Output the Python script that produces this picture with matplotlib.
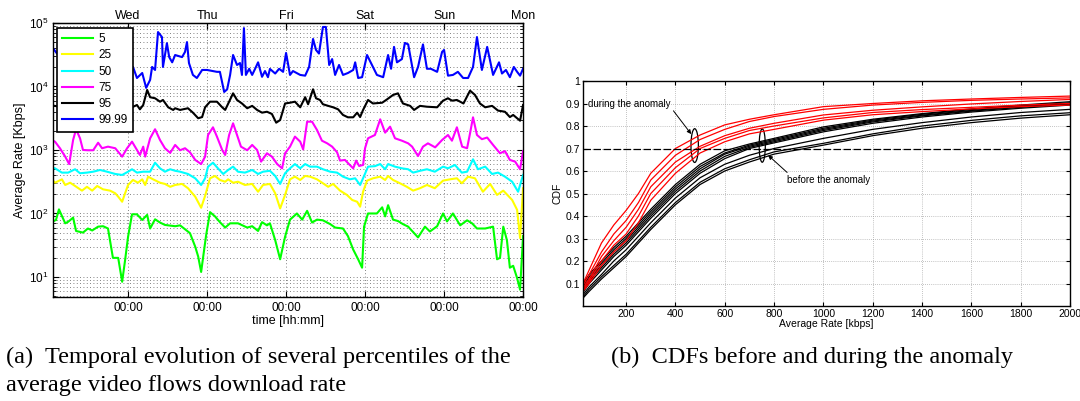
import matplotlib
matplotlib.use("Agg")
import matplotlib.pyplot as plt
from matplotlib.patches import Ellipse

plt.rcParams['font.family'] = ['Liberation Sans', 'DejaVu Sans']
plt.rcParams['mathtext.default'] = 'regular'

# ---- (a) percentiles of the average download rate, hours from Wed 00:00 ----
t_p5 = [-22.8, -21.9, -21.0, -19.1, -18.2, -16.7, -15.8, -13.7, -12.2, -10.9, -9.1, -7.6, -6.1, -4.6, -3.0,
        -1.8, -0.9, 0.0, 1.2, 2.7, 4.3, 5.8, 6.7, 8.2, 9.7, 11.2, 14.3, 15.8, 18.8, 20.4, 21.3, 22.2, 23.7,
        24.9, 26.4, 27.9, 29.5, 31.0, 33.4, 36.2, 37.7, 39.5, 40.7, 42.2, 43.1, 44.7, 46.2, 47.7, 49.2, 51.3,
        52.9, 54.4, 55.9, 57.4, 59.2, 61.4, 62.9, 65.3, 66.8, 68.4, 69.9, 71.1, 71.7, 72.9, 75.6, 77.2, 78.1,
        79.0, 80.5, 82.0, 83.5, 85.1, 86.3, 88.1, 90.2, 91.7, 93.9, 95.7, 96.9, 98.7, 100.9, 103.0, 104.5,
        106.0, 108.5, 110.9, 112.1, 113.0, 114.0, 115.1, 116.0, 117.0, 118.2, 119.1, 120.0]
rate_p5 = [75, 79, 116, 70, 74, 86, 53, 50, 58, 54, 62, 63, 58, 20, 20, 8.4, 18.5, 43, 97, 97, 79, 95, 58, 81,
           72, 66, 63, 65, 49, 30, 21, 12, 45, 105, 90, 73, 60, 70, 70, 60, 63, 53, 73, 65, 70, 38, 19, 43, 80,
           100, 80, 110, 72, 80, 78, 68, 60, 58, 44, 27, 19, 14, 62, 100, 100, 125, 90, 135, 80, 76, 68, 62, 53,
           42, 62, 52, 63, 100, 75, 100, 65, 78, 70, 58, 58, 62, 19, 20, 62, 38, 14, 15, 9.6, 6.3, 44]

t_p25 = [-22.8, -22.2, -20.1, -19.1, -17.6, -16.1, -14.0, -12.5, -10.9, -9.4, -7.6, -5.5, -3.9, -3.0, -1.8,
         -0.9, 0.0, 1.5, 3.0, 4.3, 5.2, 6.1, 7.6, 9.7, 11.2, 12.8, 14.3, 16.4, 18.2, 20.4, 22.2, 23.4, 24.9,
         26.4, 27.9, 29.5, 30.4, 31.9, 33.4, 35.5, 37.7, 39.5, 41.0, 43.1, 44.7, 46.2, 47.7, 49.2, 50.7, 52.3,
         53.8, 55.3, 57.4, 59.2, 60.8, 62.3, 64.4, 66.5, 68.1, 69.6, 70.5, 71.4, 72.6, 74.4, 76.6, 78.1, 79.0,
         80.5, 82.6, 84.7, 86.6, 88.7, 90.8, 93.2, 95.7, 97.8, 99.9, 101.4, 103.3, 105.4, 107.8, 110.0, 112.1,
         114.0, 116.7, 118.2, 119.1, 120.0]
rate_p25 = [330, 305, 345, 281, 305, 271, 229, 263, 229, 271, 240, 229, 208, 184, 153, 208, 281, 337, 305, 345,
            281, 380, 345, 305, 292, 263, 281, 292, 250, 184, 123, 189, 358, 390, 337, 316, 345, 305, 316, 281,
            292, 220, 281, 292, 208, 120, 196, 345, 380, 337, 390, 380, 345, 299, 263, 292, 229, 196, 163, 153,
            128, 220, 329, 358, 380, 337, 390, 337, 299, 263, 229, 250, 281, 250, 329, 345, 358, 299, 380, 358,
            220, 292, 196, 229, 163, 114, 41, 250]

t_p50 = [-22.8, -22.2, -20.1, -18.2, -16.1, -14.6, -12.5, -10.6, -8.5, -6.4, -3.9, -1.8, 0.0, 1.2, 2.7, 4.6,
         6.7, 8.2, 9.7, 11.2, 12.8, 14.3, 15.8, 18.2, 20.4, 22.2, 23.4, 24.3, 25.8, 27.3, 28.9, 30.4, 31.9,
         33.4, 35.5, 37.7, 39.5, 41.0, 43.1, 44.7, 46.2, 47.7, 49.2, 50.7, 52.3, 53.8, 55.3, 57.4, 59.2, 61.4,
         63.5, 65.3, 67.4, 69.0, 70.5, 71.7, 72.9, 75.0, 76.6, 78.1, 79.0, 81.1, 83.2, 85.1, 86.6, 88.7, 90.8,
         93.2, 95.7, 97.2, 99.3, 101.4, 103.0, 104.8, 106.3, 108.5, 110.6, 112.4, 114.5, 116.7, 118.5, 120.0]
rate_p50 = [520, 514, 440, 440, 497, 430, 440, 455, 484, 455, 419, 404, 455, 497, 440, 455, 455, 630, 514, 455,
            497, 470, 455, 419, 358, 281, 358, 546, 630, 514, 419, 484, 546, 455, 440, 484, 419, 455, 470, 390,
            292, 430, 514, 600, 514, 600, 546, 546, 497, 455, 440, 380, 345, 358, 281, 390, 546, 556, 600, 497,
            600, 546, 514, 497, 440, 470, 497, 455, 546, 514, 580, 440, 455, 713, 497, 546, 419, 440, 380, 316,
            220, 404]

t_p75 = [-22.8, -22.2, -20.7, -19.1, -17.9, -16.7, -15.8, -14.6, -13.7, -12.2, -10.6, -9.1, -7.9, -6.1, -3.9,
         -1.8, -0.3, 1.2, 2.7, 3.6, 4.6, 5.2, 6.7, 8.2, 9.7, 11.2, 12.8, 14.3, 15.8, 17.3, 18.8, 20.4, 22.2,
         23.4, 24.3, 25.8, 27.0, 28.6, 29.5, 30.7, 31.9, 33.1, 34.3, 36.2, 37.7, 39.2, 40.4, 42.2, 43.7, 45.3,
         46.8, 47.7, 49.2, 50.7, 52.3, 53.2, 54.4, 55.9, 57.4, 58.9, 60.5, 62.0, 63.5, 64.4, 65.9, 67.1, 68.4,
         69.3, 70.2, 71.4, 72.0, 72.9, 75.0, 76.6, 78.1, 79.6, 81.1, 83.2, 85.1, 86.3, 88.1, 89.6, 91.1, 93.3,
         95.4, 97.2, 98.4, 99.9, 101.5, 103.0, 103.9, 104.8, 106.0, 107.5, 109.1, 110.9, 113.0, 114.5, 116.0,
         117.6, 119.1, 120.0]
rate_p75 = [1400, 1352, 1065, 785, 600, 1435, 2120, 1527, 1000, 990, 990, 1300, 1065, 1128, 1065, 785, 1065,
            1352, 1000, 834, 1128, 785, 1527, 2120, 1435, 1065, 900, 1200, 990, 1065, 920, 697, 600, 785, 1722,
            2275, 1623, 1000, 834, 1722, 2630, 1722, 1128, 990, 1200, 1000, 655, 887, 785, 600, 514, 887, 1128,
            1623, 1352, 1020, 2790, 2790, 2065, 1400, 1272, 1128, 920, 680, 697, 600, 514, 680, 560, 580, 1065,
            1527, 1722, 3040, 1875, 2330, 1527, 1400, 1272, 1128, 803, 1128, 1272, 1100, 1435, 1722, 1400, 2275,
            1128, 1065, 1830, 3270, 1722, 1480, 1570, 1200, 887, 960, 697, 655, 497, 960]

t_p95 = [-22.8, -17.6, -11.5, -5.5, -0.6, 1.2, 2.7, 3.6, 4.6, 5.8, 6.7, 8.2, 9.7, 10.6, 12.2, 13.7, 14.3, 15.8,
         18.2, 19.7, 21.3, 22.5, 23.4, 24.9, 27.0, 28.6, 29.5, 30.7, 31.9, 33.1, 34.6, 36.2, 37.7, 39.2, 40.7,
         42.2, 43.7, 45.0, 46.2, 47.7, 49.2, 50.7, 52.3, 53.8, 54.7, 56.2, 57.1, 58.3, 59.2, 60.8, 62.3, 63.8,
         65.3, 66.8, 68.4, 69.6, 70.5, 71.4, 72.9, 74.4, 77.2, 78.7, 80.5, 82.0, 83.5, 85.7, 86.9, 88.7, 90.8,
         93.9, 95.7, 97.2, 98.4, 99.9, 101.9, 103.9, 105.4, 106.9, 108.5, 110.6, 112.4, 114.5, 116.0, 117.0,
         119.1, 120.0]
rate_p95 = [5000, 4500, 5500, 4800, 4800, 4700, 5110, 4370, 5110, 8800, 6770, 6520, 5760, 6130, 4700, 4270,
            4540, 4270, 4540, 3870, 3160, 3300, 4700, 5760, 5760, 4700, 4270, 5760, 7800, 6130, 5400, 4540,
            4950, 4270, 3870, 4000, 3690, 2690, 2960, 5400, 5550, 5760, 4700, 6770, 5250, 9030, 6520, 6130,
            5250, 4950, 4700, 4370, 3560, 3270, 3270, 3870, 3300, 4270, 6130, 5400, 5550, 6280, 7350, 7800,
            5400, 4950, 4270, 4950, 4800, 4700, 5980, 6520, 5980, 6130, 5400, 8600, 7350, 5400, 4700, 4950,
            4170, 4000, 3300, 3560, 2890, 5110]

t_p9999 = [-22.8, -21.6, -16.1, -10.0, -3.9, 1.5, 2.7, 4.3, 5.5, 6.7, 7.3, 8.2, 9.1, 10.3, 10.6, 11.8, 12.5,
           13.4, 14.3, 16.4, 17.3, 17.9, 18.5, 19.7, 20.9, 22.5, 24.0, 27.0, 27.9, 29.2, 30.1, 31.0, 31.9, 33.1,
           34.0, 34.6, 35.2, 35.8, 36.8, 37.7, 38.6, 39.5, 40.7, 41.6, 42.5, 43.1, 44.7, 45.9, 47.1, 48.0, 49.2,
           50.1, 52.3, 53.8, 55.0, 56.2, 57.1, 58.0, 59.2, 60.1, 61.1, 62.0, 62.9, 64.1, 65.3, 66.8, 68.4, 69.0,
           69.9, 71.1, 72.6, 74.1, 75.6, 77.5, 79.0, 79.9, 80.8, 81.7, 83.2, 84.1, 85.1, 86.9, 88.1, 89.6, 90.8,
           92.0, 93.9, 95.4, 96.0, 97.2, 98.7, 100.2, 101.8, 103.3, 104.8, 106.0, 107.5, 109.1, 110.9, 112.7,
           113.6, 114.8, 116.0, 117.2, 118.2, 119.1, 120.0]
rate_p9999 = [40000, 33000, 22000, 25000, 19000, 20300, 13600, 16300, 9500, 12700, 20300, 18200, 72000, 60000,
              20300, 48000, 29000, 24000, 31300, 29000, 35000, 50000, 23400, 15200, 13600, 18200, 18200, 17000,
              17000, 8200, 9000, 15200, 31300, 21800, 23400, 15200, 83000, 15200, 19000, 15200, 19000, 24000,
              14200, 17500, 14000, 18900, 16000, 19000, 17000, 33700, 15200, 17500, 15200, 14800, 20300, 56000,
              37600, 33000, 86500, 86500, 21800, 27000, 15200, 21800, 15200, 16300, 18200, 24000, 13600, 14000,
              31300, 21800, 15200, 14000, 31300, 19000, 42000, 24000, 27000, 48500, 46000, 14000, 20300, 46000,
              19000, 19000, 17000, 35000, 37600, 14800, 15200, 17000, 13600, 13600, 20300, 60000, 18200, 42000,
              15200, 24000, 16000, 18200, 14000, 20300, 17000, 14800, 19000]

percentile_names = ['5', '25', '50', '75', '95', '99.99']
percentile_colors = ['#00ff00', '#ffff00', '#00ffff', '#ff00ff', 'black', '#0000ff']
day_names = ['Wed', 'Thu', 'Fri', 'Sat', 'Sun', 'Mon']

# ---- (b) CDFs before / during the anomaly ----
cdf_rate = [25, 50, 100, 150, 200, 250, 300, 400, 500, 600, 700, 800, 1000, 1200, 1400, 1600, 1800, 2000]
cdf_during = [
    [0.10, 0.16, 0.28, 0.36, 0.425, 0.50, 0.59, 0.70, 0.76, 0.805, 0.83, 0.85, 0.886, 0.90, 0.912, 0.92, 0.927, 0.933],
    [0.09, 0.14, 0.24, 0.32, 0.38, 0.46, 0.56, 0.67, 0.74, 0.785, 0.82, 0.842, 0.874, 0.893, 0.905, 0.914, 0.92, 0.925],
    [0.08, 0.12, 0.22, 0.29, 0.35, 0.43, 0.53, 0.64, 0.71, 0.757, 0.79, 0.812, 0.849, 0.87, 0.885, 0.898, 0.909, 0.918],
    [0.07, 0.11, 0.20, 0.27, 0.32, 0.40, 0.50, 0.615, 0.70, 0.745, 0.78, 0.80, 0.836, 0.86, 0.873, 0.883, 0.893, 0.90],
    [0.065, 0.10, 0.18, 0.24, 0.29, 0.37, 0.47, 0.59, 0.68, 0.73, 0.765, 0.785, 0.826, 0.85, 0.864, 0.876, 0.886, 0.893],
]
cdf_before = [
    [0.10, 0.14, 0.20, 0.26, 0.31, 0.37, 0.43, 0.54, 0.63, 0.69, 0.72, 0.745, 0.796, 0.83, 0.855, 0.876, 0.893, 0.908],
    [0.09, 0.13, 0.19, 0.25, 0.30, 0.36, 0.42, 0.53, 0.62, 0.68, 0.715, 0.74, 0.79, 0.826, 0.852, 0.873, 0.89, 0.903],
    [0.08, 0.12, 0.18, 0.24, 0.29, 0.35, 0.41, 0.52, 0.61, 0.675, 0.71, 0.735, 0.785, 0.822, 0.848, 0.869, 0.886, 0.90],
    [0.07, 0.11, 0.17, 0.23, 0.28, 0.34, 0.40, 0.51, 0.60, 0.665, 0.705, 0.73, 0.78, 0.818, 0.845, 0.866, 0.883, 0.897],
    [0.06, 0.10, 0.16, 0.22, 0.27, 0.33, 0.39, 0.50, 0.59, 0.655, 0.70, 0.725, 0.774, 0.812, 0.84, 0.862, 0.879, 0.893],
    [0.05, 0.085, 0.14, 0.20, 0.25, 0.31, 0.37, 0.48, 0.57, 0.63, 0.67, 0.70, 0.745, 0.785, 0.815, 0.84, 0.86, 0.874],
    [0.04, 0.075, 0.13, 0.18, 0.23, 0.29, 0.35, 0.46, 0.55, 0.61, 0.65, 0.685, 0.723, 0.765, 0.80, 0.825, 0.845, 0.859],
    [0.035, 0.065, 0.12, 0.17, 0.22, 0.28, 0.34, 0.45, 0.54, 0.60, 0.64, 0.675, 0.715, 0.757, 0.79, 0.815, 0.835, 0.85],
]

fig = plt.figure(figsize=(10.8, 4.01), dpi=100)

# ------------------------------------------------------------------ panel (a)
ax = fig.add_axes([0.0491, 0.2594, 0.4352, 0.6833])
series = [(t_p5, rate_p5), (t_p25, rate_p25), (t_p50, rate_p50),
          (t_p75, rate_p75), (t_p95, rate_p95), (t_p9999, rate_p9999)]
for (t, r), name, col in zip(series, percentile_names, percentile_colors):
    ax.plot(t, r, color=col, lw=1.5, label=name)

ax.set_yscale('log')
ax.set_ylim(4.84, 1e5)
ax.set_xlim(-22.8, 120)
day_ticks = [0, 24, 48, 72, 96, 120]
ax.set_xticks(day_ticks)
ax.set_xticklabels(['00:00'] * len(day_ticks))
ax.tick_params(which='both', direction='in', top=True, right=True, labelsize=8.5)
ax.tick_params(which='major', length=4)
ax.tick_params(which='minor', length=2)
ax.grid(True, which='both', axis='y', color='0.35', ls=(0, (1, 3)), lw=0.6)
ax.grid(True, which='major', axis='x', color='0.35', ls=(0, (1, 3)), lw=0.6)
for s in ax.spines.values():
    s.set_linewidth(1.0)

top = ax.secondary_xaxis('top')
top.set_xticks(day_ticks)
top.set_xticklabels(day_names)
top.tick_params(direction='in', length=4, labelsize=9, pad=1)

ax.set_xlabel('time [hh:mm]', fontsize=9, labelpad=1)
ax.set_ylabel('Average Rate [Kbps]', fontsize=9, labelpad=2)

leg = ax.legend(loc='upper left', bbox_to_anchor=(0.008, 0.982), borderaxespad=0, fontsize=8.5,
                handlelength=2.6, handletextpad=0.5, labelspacing=0.36,
                borderpad=0.45, fancybox=False, framealpha=1, edgecolor='black')
leg.get_frame().set_linewidth(1.2)

# ------------------------------------------------------------------ panel (b)
bx = fig.add_axes([0.5398, 0.2369, 0.4509, 0.5611])
for cdf in cdf_before:
    bx.plot(cdf_rate, cdf, color='black', lw=0.9)
for cdf in cdf_during:
    bx.plot(cdf_rate, cdf, color='red', lw=0.9)
bx.axhline(0.7, color='black', lw=0.9, ls=(0, (6, 2)))

bx.set_xlim(25, 2000)
bx.set_ylim(0, 1)
bx.set_xticks(range(200, 2001, 200))
bx.set_yticks([0.1, 0.2, 0.3, 0.4, 0.5, 0.6, 0.7, 0.8, 0.9, 1.0])
bx.set_yticklabels(['0.1', '0.2', '0.3', '0.4', '0.5', '0.6', '0.7', '0.8', '0.9', '1'])
bx.tick_params(direction='in', top=True, right=True, length=3, labelsize=7.5, pad=2)
bx.grid(True, color='0.55', ls=(0, (1, 2)), lw=0.5)
for s in bx.spines.values():
    s.set_linewidth(1.0)
bx.set_xlabel('Average Rate [kbps]', fontsize=7.5, labelpad=0)
bx.set_ylabel('CDF', fontsize=7.5, labelpad=2)

bx.add_patch(Ellipse((478, 0.713), 30, 0.15, fill=False, color='black', lw=0.9))
bx.add_patch(Ellipse((752, 0.713), 25, 0.148, fill=False, color='black', lw=0.9))
bx.annotate('during the anomaly', xy=(464, 0.764), xytext=(46, 0.897), fontsize=7,
            va='center', ha='left',
            arrowprops=dict(arrowstyle='-|>', color='black', lw=0.7, mutation_scale=6,
                            shrinkA=0, shrinkB=0, relpos=(1.0, 0.2)))
bx.annotate('before the anomaly', xy=(776, 0.67), xytext=(853, 0.559), fontsize=7,
            va='center', ha='left',
            arrowprops=dict(arrowstyle='-|>', color='black', lw=0.7, mutation_scale=6,
                            shrinkA=0, shrinkB=0, relpos=(0.05, 0.9)))

# ------------------------------------------------------------------ captions
cap = dict(family=['Liberation Serif', 'DejaVu Serif'], fontsize=17.5, va='center', ha='left')
fig.text(0.006, 1 - 357 / 401, '(a)  Temporal evolution of several percentiles of the', **cap)
fig.text(0.006, 1 - 385 / 401, 'average video flows download rate', **cap)
fig.text(0.566, 1 - 357 / 401, '(b)  CDFs before and during the anomaly', **cap)

fig.savefig('out.png', dpi=100)
